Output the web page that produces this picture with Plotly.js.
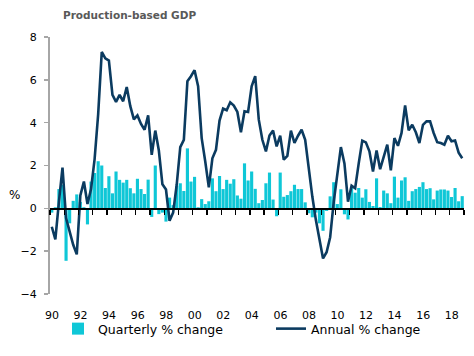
<!DOCTYPE html>
<html>
<head>
<meta charset="utf-8">
<script src="https://cdn.plot.ly/plotly-3.0.1.min.js"></script>
<style>
  html, body { margin: 0; padding: 0; background: #ffffff; }
  #chart { width: 474px; height: 356px; }
</style>
</head>
<body>
<div id="chart"></div>
<script>
// Quarterly series, 1990 Q1 .. 2018 Q4
const firstYear = 1990;
const quarterlyChange = [
  -0.2, 0.05, 0.9, 1.1,   -2.45, -0.7, 0.35, 0.65,   0.3, 0.05, -0.75, 1.25,
  1.65, 2.2, 2.0, 0.95,   1.5, 0.7, 1.72, 1.33,      1.2, 1.33, 0.94, 0.7,
  1.38, 0.9, 0.67, 1.34,  -0.4, 2.0, -0.27, -0.2,    -0.62, 0.5, 0.15, 1.05,
  1.17, 0.81, 2.8, 1.25,  1.47, 0.05, 0.43, 0.2,     0.33, 1.4, 0.8, 1.51,
  0.9, 1.33, 1.15, 1.36,  0.6, 0.45, 2.1, 1.3,       1.72, 0.91, 0.24, 0.39,
  1.17, 1.67, 0.41, -0.37, 1.67, 0.54, 0.62, 0.8,    1.1, 0.9, 0.9, 0.28,
  -0.23, -0.42, -0.2, -0.7, -1.05, -0.12, 0.56, 1.22, 0.2, 0.89, -0.28, -0.52,
  0.95, 0.73, 0.95, 0.5,  0.89, 0.3, 0.11, 1.4,      0.06, 0.83, 0.7, 0.24,
  1.48, 0.5, 1.3, 1.45,   0.35, 0.8, 0.9, 1.0,       1.22, 0.9, 0.94, 0.42,
  0.83, 0.88, 0.88, 0.83, 0.53, 0.95, 0.33, 0.57
];
const annualChange = [
  -0.86, -1.45, 0.3, 1.9,  -0.45, -1.15, -1.7, -2.15,  0.6, 1.25, 0.2, 0.9,
  2.3, 4.4, 7.3, 7.0,      6.9, 5.3, 4.97, 5.3,        5.0, 5.66, 4.77, 4.15,
  4.34, 3.94, 3.67, 4.34,  2.5, 3.63, 2.7, 1.12,       0.88, -0.58, -0.2, 1.1,
  2.86, 3.2, 5.94, 6.17,   6.45, 5.7, 3.28, 2.19,      0.98, 2.34, 2.73, 4.1,
  4.66, 4.58, 4.95, 4.8,   4.5, 3.55, 4.53, 4.5,       5.7, 6.17, 4.14, 3.2,
  2.66, 3.4, 3.63, 2.89,   3.39, 2.27, 2.45, 3.63,     3.05, 3.39, 3.67, 3.2,
  1.8, 0.55, -0.55, -1.5,  -2.34, -2.05, -1.35, 0.3,   1.6, 2.86, 2.1, 0.31,
  1.06, 0.94, 2.1, 3.16,   3.08, 2.66, 1.72, 2.7,      1.83, 2.39, 2.97, 1.77,
  3.28, 2.92, 3.52, 4.8,   3.64, 3.9, 3.55, 3.05,      3.9, 4.06, 4.06, 3.52,
  3.09, 3.05, 2.97, 3.39,  3.13, 3.17, 2.6, 2.34
];
const tickYears = [1990,1992,1994,1996,1998,2000,2002,2004,2006,2008,2010,2012,2014,2016,2018];
const tickLabels = ['90','92','94','96','98','00','02','04','06','08','10','12','14','16','18'];
const yTickVals = [-4,-2,0,2,4,6,8];
const seriesNames = ['Quarterly % change', 'Annual % change'];

// quarter mid-points on a decimal-year axis
const xq = quarterlyChange.map((_, i) => firstYear + i / 4 + 0.125);

const barColor = '#0fc7d7';
const lineColor = '#0b3b60';
const font = 'DejaVu Sans, Verdana, sans-serif';

const traces = [
  {
    type: 'bar', x: xq, y: quarterlyChange, name: seriesNames[0],
    marker: { color: barColor, line: { width: 0 } },
    xaxis: 'x', yaxis: 'y', hoverinfo: 'skip',
    legendwidth: 168
  },
  {
    type: 'scatter', mode: 'lines', x: xq, y: annualChange, name: seriesNames[1],
    line: { color: lineColor, width: 2.6 },
    xaxis: 'x2', yaxis: 'y', hoverinfo: 'skip'
  }
];

const xr = [1990, 2019];
const layout = {
  width: 474, height: 356,
  margin: { l: 50, r: 10, t: 37, b: 62 },
  paper_bgcolor: '#ffffff', plot_bgcolor: '#ffffff',
  font: { family: font, size: 11, color: '#000000' },
  bargap: 0.12,
  showlegend: true,
  title: {
    text: '<b>Production-based GDP</b>',
    font: { family: font, size: 10.5, color: '#595959' },
    xref: 'container', x: 63 / 474, xanchor: 'left',
    yref: 'container', y: 1 - 15 / 356, yanchor: 'middle'
  },
  xaxis: {
    range: xr, showgrid: false, zeroline: false, showline: false,
    ticks: '', tickvals: tickYears, ticktext: tickLabels,
    tickfont: { family: font, size: 11, color: '#000' },
    ticklabelshift: 2, ticklabelstandoff: 13
  },
  xaxis2: {
    range: xr, overlaying: 'x', anchor: 'free', position: 4 / 12, side: 'bottom',
    showgrid: false, zeroline: false, showticklabels: false,
    showline: true, linecolor: '#000000', linewidth: 1.5,
    ticks: 'outside', ticklen: 5, tickwidth: 1.3, tickcolor: '#000000',
    tick0: 1990, dtick: 1
  },
  yaxis: {
    range: [-4, 8], tickvals: yTickVals, showgrid: false, zeroline: false,
    showline: true, linecolor: '#a6a6a6', linewidth: 2,
    ticks: 'outside', ticklen: 4, tickwidth: 1.5, tickcolor: '#a6a6a6',
    tickfont: { family: font, size: 11, color: '#000' },
    ticklabelstandoff: 5
  },
  annotations: [
    { text: '%', xref: 'paper', yref: 'paper', x: (14 - 50) / 414, y: (294 - 195) / 257,
      xanchor: 'center', yanchor: 'middle', showarrow: false,
      font: { family: font, size: 12, color: '#000' } }
  ],
  legend: {
    orientation: 'h', xref: 'paper', yref: 'paper',
    x: (58 - 50) / 414, xanchor: 'left', y: (294 - 329) / 257, yanchor: 'middle',
    font: { family: font, size: 12.5, color: '#000' },
    bgcolor: 'rgba(0,0,0,0)', borderwidth: 0, traceorder: 'normal'
  }
};

Plotly.newPlot('chart', traces, layout, { staticPlot: true, displayModeBar: false });
</script>
</body>
</html>
